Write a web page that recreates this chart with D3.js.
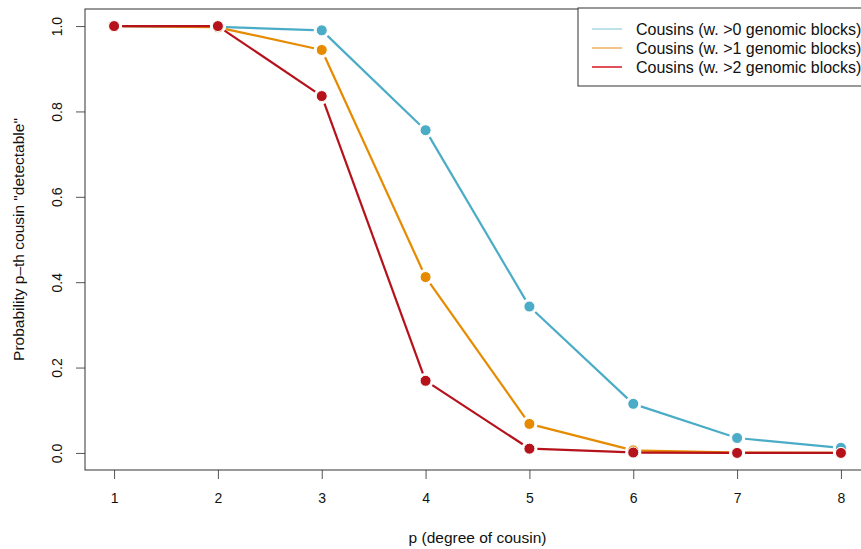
<!DOCTYPE html>
<html>
<head>
<meta charset="utf-8">
<script src="https://cdn.jsdelivr.net/npm/d3@7"></script>
<style>
  body { margin: 0; background: #fff; }
  svg { display: block; font-family: "Liberation Sans", Arial, sans-serif; }
</style>
</head>
<body>
<div id="vis"></div>
<script>
// data
const DEGREES = [1, 2, 3, 4, 5, 6, 7, 8];
const GT0 = [1.0, 0.998, 0.990, 0.756, 0.343, 0.115, 0.035, 0.012];
const GT1 = [1.0, 0.997, 0.944, 0.412, 0.068, 0.006, 0.001, 0.0];
const GT2 = [1.0, 1.0, 0.836, 0.169, 0.010, 0.001, 0.0, 0.0];
const SERIES_NAMES = ["Cousins (w. >0 genomic blocks)",
                      "Cousins (w. >1 genomic blocks)",
                      "Cousins (w. >2 genomic blocks)"];
const Y_TICKS = [0, 0.2, 0.4, 0.6, 0.8, 1.0];

const COLORS = ["#4aacc6", "#e68a00", "#b5121b"];
const LEGEND_COLORS = ["#a9d8e6", "#eeb060", "#d4161f"];

const FRAME_WIDTH = 861;
const FRAME_HEIGHT = 549;
const BOX = {left: 85, right: 870, top: 9, bottom: 470};

const svg = d3.select("#vis")
  .append("svg")
    .attr("width", FRAME_WIDTH)
    .attr("height", FRAME_HEIGHT);

// R-style 4% padded ranges
const X_SCALE = d3.scaleLinear().domain([0.72, 8.28]).range([BOX.left, BOX.right]);
const Y_SCALE = d3.scaleLinear().domain([-0.04, 1.04]).range([BOX.bottom, BOX.top]);

// x axis
const xAxis = svg.append("g")
  .attr("transform", "translate(0," + BOX.bottom + ")")
  .call(d3.axisBottom(X_SCALE).tickValues(DEGREES).tickFormat(d3.format("d"))
        .tickSizeInner(9).tickSizeOuter(0).tickPadding(14));
xAxis.select(".domain").remove();
xAxis.selectAll("line").attr("stroke", "#555");
xAxis.selectAll("text").attr("font-size", "14px").attr("fill", "#111")
  .attr("font-family", "Liberation Sans, Arial, sans-serif");

// y axis
const yAxis = svg.append("g")
  .attr("transform", "translate(" + BOX.left + ",0)")
  .call(d3.axisLeft(Y_SCALE).tickValues(Y_TICKS).tickFormat(d3.format(".1f"))
        .tickSizeInner(9).tickSizeOuter(0));
yAxis.select(".domain").remove();
yAxis.selectAll("line").attr("stroke", "#555");
yAxis.selectAll("text").remove();
yAxis.selectAll(".tick").append("text")
  .attr("transform", "translate(-28,0) rotate(-90)")
  .attr("text-anchor", "middle")
  .attr("dy", "0.35em")
  .attr("font-size", "14px")
  .attr("font-family", "Liberation Sans, Arial, sans-serif")
  .attr("fill", "#111")
  .text(d => d3.format(".1f")(d));

// box
svg.append("rect")
  .attr("x", BOX.left).attr("y", BOX.top)
  .attr("width", BOX.right - BOX.left).attr("height", BOX.bottom - BOX.top)
  .attr("fill", "none").attr("stroke", "#333").attr("stroke-width", 1);

// axis titles
svg.append("text")
  .attr("x", (BOX.left + BOX.right) / 2).attr("y", 538).attr("dy", "0.35em")
  .attr("text-anchor", "middle").attr("font-size", "15.5px").attr("fill", "#111")
  .text("p (degree of cousin)");
svg.append("text")
  .attr("transform", "translate(19," + ((BOX.top + BOX.bottom) / 2) + ") rotate(-90)")
  .attr("text-anchor", "middle").attr("dy", "0.35em")
  .attr("font-size", "15.5px").attr("fill", "#111")
  .text("Probability p\u2013th cousin \"detectable\"");

// lines with gaps around points (type = "b")
const GAP = 8;
function drawSeries(values, color) {
  const pts = values.map((v, i) => [X_SCALE(DEGREES[i]), Y_SCALE(v)]);
  const segs = [];
  for (let i = 0; i < pts.length - 1; i++) {
    const [x0, y0] = pts[i], [x1, y1] = pts[i + 1];
    const len = Math.hypot(x1 - x0, y1 - y0);
    if (len <= 2 * GAP) continue;
    const ux = (x1 - x0) / len, uy = (y1 - y0) / len;
    segs.push([x0 + ux * GAP, y0 + uy * GAP, x1 - ux * GAP, y1 - uy * GAP]);
  }
  svg.append("g").selectAll("line")
    .data(segs).enter().append("line")
      .attr("x1", d => d[0]).attr("y1", d => d[1])
      .attr("x2", d => d[2]).attr("y2", d => d[3])
      .attr("stroke", color).attr("stroke-width", 2.2);
  svg.append("g").selectAll("circle")
    .data(values).enter().append("circle")
      .attr("cx", (d, i) => X_SCALE(DEGREES[i]))
      .attr("cy", d => Y_SCALE(d))
      .attr("r", 5.5)
      .attr("fill", color)
      .attr("stroke", "#fff").attr("stroke-width", 1);
}
drawSeries(GT0, COLORS[0]);
drawSeries(GT1, COLORS[1]);
drawSeries(GT2, COLORS[2]);

// legend
const legend = svg.append("g");
legend.append("rect")
  .attr("x", 578).attr("y", 8).attr("width", 300).attr("height", 78)
  .attr("fill", "#fff").attr("stroke", "#333");
SERIES_NAMES.forEach((name, i) => {
  const y = 29 + i * 19;
  legend.append("line")
    .attr("x1", 592).attr("x2", 622).attr("y1", y).attr("y2", y)
    .attr("stroke", LEGEND_COLORS[i]).attr("stroke-width", 1.5);
  legend.append("text")
    .attr("x", 636).attr("y", y).attr("dy", "0.35em")
    .attr("font-size", "16px").attr("fill", "#111")
    .text(name);
});
</script>
</body>
</html>
